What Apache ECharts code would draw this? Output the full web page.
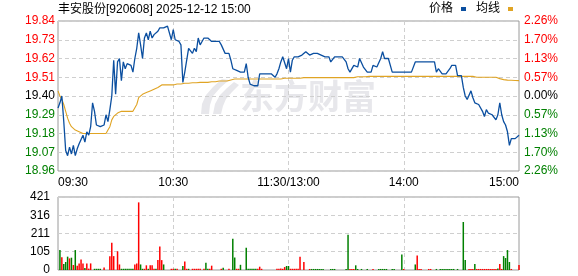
<!DOCTYPE html>
<html>
<head>
<meta charset="utf-8">
<script src="https://cdn.jsdelivr.net/npm/echarts@6/dist/echarts.min.js"></script>
<style>
html,body{margin:0;padding:0;background:#fff;}
#c{width:578px;height:276px;}
</style>
</head>
<body>
<div id="c"></div>
<script>
const titleText = '丰安股份[920608] 2025-12-12 15:00';
const prevClose = 19.40;
const priceTicks = [18.96,19.07,19.18,19.29,19.40,19.51,19.62,19.73,19.84];
const pctLabels = ['2.26%','1.70%','1.13%','0.57%','0.00%','0.57%','1.13%','1.70%','2.26%'];
const timeLabels = ['09:30','10:30','11:30/13:00','14:00','15:00'];
const volTicks = [0,105,211,316,421];

const prices = [
19.33,19.36,19.40,19.25,19.08,19.05,19.10,19.06,19.11,19.05,
19.09,19.12,19.13,19.17,19.13,19.19,19.17,19.22,19.36,19.31,
19.23,19.22,19.22,19.22,19.23,19.29,19.25,19.32,19.40,19.61,
19.41,19.60,19.62,19.49,19.60,19.56,19.59,19.58,19.58,19.54,
19.62,19.68,19.77,19.70,19.62,19.74,19.77,19.73,19.78,19.74,
19.76,19.77,19.78,19.80,19.81,19.80,19.80,19.81,19.81,19.73,
19.79,19.73,19.72,19.72,19.70,19.48,19.54,19.61,19.68,19.68,
19.65,19.68,19.66,19.74,19.70,19.72,19.74,19.74,19.74,19.73,
19.72,19.72,19.72,19.72,19.72,19.70,19.71,19.65,19.65,19.65,
19.61,19.56,19.55,19.55,19.54,19.54,19.54,19.54,19.59,19.51,
19.47,19.46,19.46,19.46,19.46,19.53,19.53,19.53,19.53,19.53,
19.53,19.53,19.53,19.51,19.53,19.56,19.60,19.63,19.64,19.56,
19.62,19.54,19.61,19.63,19.63,19.63,19.63,19.64,19.65,19.66,
19.66,19.64,19.65,19.65,19.66,19.65,19.64,19.64,19.63,19.63,
19.63,19.63,19.60,19.59,19.63,19.63,19.63,19.63,19.63,19.63,
19.60,19.56,19.54,19.55,19.58,19.59,19.57,19.62,19.62,19.57,
19.56,19.54,19.54,19.54,19.58,19.58,19.57,19.57,19.62,19.66,
19.62,19.62,19.62,19.62,19.54,19.54,19.54,19.54,19.54,19.54,
19.54,19.54,19.54,19.54,19.54,19.53,19.60,19.60,19.60,19.60,
19.60,19.60,19.60,19.60,19.60,19.60,19.60,19.54,19.56,19.55,
19.53,19.53,19.53,19.53,19.56,19.58,19.58,19.58,19.52,19.52,
19.52,19.45,19.40,19.38,19.39,19.43,19.39,19.36,19.35,19.35,
19.34,19.31,19.28,19.32,19.30,19.29,19.29,19.29,19.26,19.29,
19.36,19.29,19.25,19.23,19.19,19.11,19.15,19.15,19.15,19.15,
19.17
];

const avgPrices = [
19.43,19.40,19.38,19.35,19.31,19.27,19.24,19.22,19.21,19.20,
19.19,19.19,19.18,19.18,19.18,19.18,19.18,19.18,19.18,19.18,
19.18,19.18,19.18,19.18,19.18,19.18,19.20,19.22,19.26,19.28,
19.29,19.30,19.30,19.31,19.31,19.31,19.31,19.31,19.31,19.31,
19.32,19.35,19.39,19.40,19.41,19.41,19.42,19.42,19.43,19.43,
19.44,19.44,19.45,19.46,19.465,19.465,19.465,19.465,19.465,19.465,
19.465,19.47,19.47,19.47,19.47,19.475,19.475,19.475,19.475,19.475,
19.478,19.478,19.478,19.478,19.48,19.48,19.48,19.48,19.48,19.484,
19.484,19.484,19.484,19.484,19.488,19.488,19.488,19.488,19.488,19.488,
19.494,19.497,19.50,19.50,19.50,19.50,19.50,19.50,19.50,19.50,
19.50,19.50,19.50,19.50,19.50,19.50,19.50,19.50,19.50,19.50,
19.50,19.50,19.50,19.50,19.50,19.50,19.50,19.504,19.504,19.504,
19.504,19.504,19.504,19.504,19.504,19.504,19.504,19.504,19.508,19.508,
19.508,19.508,19.508,19.508,19.508,19.508,19.508,19.508,19.508,19.508,
19.508,19.508,19.508,19.508,19.508,19.508,19.508,19.508,19.508,19.508,
19.508,19.508,19.508,19.508,19.508,19.513,19.513,19.513,19.513,19.513,
19.513,19.513,19.515,19.515,19.515,19.515,19.515,19.515,19.515,19.515,
19.515,19.515,19.515,19.515,19.515,19.515,19.515,19.515,19.515,19.515,
19.515,19.515,19.515,19.515,19.515,19.515,19.515,19.515,19.515,19.515,
19.515,19.515,19.515,19.515,19.515,19.515,19.515,19.515,19.515,19.515,
19.515,19.515,19.515,19.515,19.515,19.515,19.515,19.515,19.515,19.515,
19.515,19.515,19.515,19.515,19.515,19.515,19.515,19.51,19.51,19.51,
19.51,19.51,19.51,19.51,19.51,19.51,19.51,19.51,19.51,19.51,
19.502,19.498,19.496,19.494,19.493,19.493,19.492,19.492,19.491,19.491,
19.49
];

const volumes = [
0,115,73,34,46,77,67,71,29,115,
25,38,61,38,12,38,8,38,0,7,
7,7,7,0,15,0,0,80,157,80,
0,108,32,7,7,7,7,7,7,7,
32,38,390,32,7,7,27,7,27,27,
7,7,57,135,57,32,0,0,0,7,
7,7,7,0,0,23,49,7,7,0,
7,7,7,7,7,0,7,42,7,7,
25,0,0,0,0,7,13,0,0,7,
0,180,72,7,7,30,0,0,129,7,
7,7,7,7,7,19,7,0,0,0,
0,0,0,0,7,7,9,7,17,23,
23,7,7,7,7,7,76,0,46,0,
0,6,6,6,6,6,6,6,6,0,
0,0,6,6,6,0,0,0,0,0,
6,203,6,6,6,27,6,0,6,0,
0,6,0,0,6,0,0,6,6,6,
6,6,0,0,6,6,0,0,0,89,
6,0,0,0,0,0,32,83,6,6,
0,0,0,6,6,0,0,6,0,6,
6,6,6,6,6,6,6,0,6,0,
0,277,57,0,6,6,6,34,6,6,
6,6,6,6,6,6,6,6,6,8,
34,6,80,69,115,46,6,0,0,0,
29
];

// 1 = up (red), -1 = down (green)
const volDir = [
1,-1,1,-1,-1,-1,1,-1,1,-1,
1,1,1,1,-1,1,1,1,1,-1,
-1,-1,-1,1,1,1,1,1,1,1,
1,1,1,-1,-1,-1,-1,-1,-1,-1,
1,1,1,-1,-1,1,1,-1,1,1,
1,-1,1,1,1,-1,1,1,1,1,
1,-1,1,1,1,-1,1,1,-1,1,
1,1,1,1,1,1,1,-1,-1,1,
1,1,1,1,1,1,-1,1,1,1,
1,-1,-1,1,1,-1,1,1,-1,-1,
-1,-1,-1,-1,1,1,1,1,1,1,
1,1,1,1,1,1,1,1,1,-1,
-1,1,1,1,1,1,1,1,1,1,
1,1,-1,-1,-1,-1,-1,-1,-1,1,
1,1,-1,-1,-1,1,1,1,1,1,
-1,-1,1,1,1,-1,-1,1,-1,1,
1,-1,1,1,1,1,1,-1,-1,-1,
-1,-1,1,1,-1,-1,1,1,1,-1,
1,1,1,1,1,1,-1,1,1,1,
1,1,1,1,1,1,1,-1,1,-1,
-1,-1,-1,-1,-1,-1,-1,1,-1,1,
1,-1,-1,1,1,1,1,-1,1,1,
1,1,1,1,1,1,1,1,1,-1,
1,1,-1,-1,-1,-1,1,1,1,1,
1
];

// minute categories 09:30-11:30, 13:01-15:00
const categories = [];
function pad(n){return (n<10?'0':'')+n;}
for (let t = 9*60+30; t <= 11*60+30; t++) categories.push(pad(Math.floor(t/60))+':'+pad(t%60));
for (let t = 13*60+1; t <= 15*60; t++) categories.push(pad(Math.floor(t/60))+':'+pad(t%60));

const RED = '#ff0000', GREEN = '#008000', BLACK = '#000000';
const BLUE = '#0b4fa0', GOLD = '#e0a424';
const FONT = '"Liberation Sans", Arial, "Noto Sans CJK SC", sans-serif';
const half = +(priceTicks[8] - prevClose).toFixed(2); // 0.44
const step = +(priceTicks[1] - priceTicks[0]).toFixed(2);

function lblColor(v){
  const d = typeof v === 'string' ? parseFloat(v) : v;
  if (d > 0.0001) return RED;
  if (d < -0.0001) return GREEN;
  return BLACK;
}

const priceDelta = prices.map(p => +(p - prevClose).toFixed(4));
const avgDelta = avgPrices.map(p => +(p - prevClose).toFixed(4));
const volData = volumes.map((v, i) => ({value: v, itemStyle: {color: volDir[i] > 0 ? RED : GREEN}}));

const markIdx = [60, 120, 180];
const splitDash = {color: '#cfcfcf', type: [4, 3], width: 1};
const WM = '#e7e7eb';

const chart = echarts.init(document.getElementById('c'), null, {renderer: 'canvas'});
chart.setOption({
  animation: false,
  backgroundColor: '#fff',
  title: {
    text: titleText, left: 58, top: 4, padding: 0,
    textStyle: {fontSize: 12, fontWeight: 'normal', color: '#000', fontFamily: FONT}
  },
  legend: {
    right: 65, top: 3, padding: 0, align: 'right',
    itemWidth: 5, itemHeight: 4, itemGap: 10,
    icon: 'rect',
    textStyle: {fontSize: 12, color: '#000', fontFamily: FONT, padding: [0, 3, 0, 0]},
    data: ['价格', '均线']
  },
  graphic: [
    {type: 'polygon', z: 0, silent: true,
     shape: {points: [[201,114],[202,104],[206,95],[213,87],[222,79],[229,80],[220,88],[213,96],[210,105],[209,114]]},
     style: {fill: WM}},
    {type: 'polygon', z: 0, silent: true,
     shape: {points: [[213,114],[215,104],[220,95],[227,88],[234,82],[239,85],[232,92],[226,99],[223,106],[221,114]]},
     style: {fill: WM}},
    {type: 'text', left: 240, top: 79, z: 0, silent: true,
     style: {text: '东方财富', font: 'bold 34px "Noto Sans CJK SC"', fill: WM}}
  ],
  grid: [
    {left: 58, top: 21, width: 461, height: 150, show: true, borderColor: '#9a9a9a', borderWidth: 1},
    {left: 58, top: 197, width: 461, height: 73, show: true, borderColor: '#9a9a9a', borderWidth: 1}
  ],
  xAxis: [
    {type: 'category', gridIndex: 0, data: categories, boundaryGap: false,
     axisLine: {show: false}, axisTick: {show: false},
     axisLabel: {
       interval: (i) => i % 60 === 0, margin: 6,
       formatter: (v, i) => timeLabels[Math.round(i / 60)],
       alignMinLabel: 'left', alignMaxLabel: 'right',
       fontSize: 12, color: '#000', fontFamily: FONT
     },
     splitLine: {show: true, interval: (i) => markIdx.indexOf(i) >= 0, lineStyle: splitDash}
    },
    {type: 'category', gridIndex: 1, data: categories, boundaryGap: false,
     axisLine: {show: false}, axisTick: {show: false}, axisLabel: {show: false},
     splitLine: {show: true, interval: (i) => markIdx.indexOf(i) >= 0, lineStyle: splitDash}
    }
  ],
  yAxis: [
    {type: 'value', gridIndex: 0, min: -half, max: half, interval: step,
     axisLine: {show: false}, axisTick: {show: false},
     axisLabel: {
       margin: 3, fontSize: 12, fontFamily: FONT,
       formatter: (v) => priceTicks[Math.round((v + half) / step)].toFixed(2),
       color: (v) => lblColor(v)
     },
     splitLine: {show: true, lineStyle: splitDash}
    },
    {type: 'value', gridIndex: 0, position: 'right', min: -half, max: half, interval: step,
     axisLine: {show: false}, axisTick: {show: false},
     axisLabel: {
       margin: 5, fontSize: 12, fontFamily: FONT,
       formatter: (v) => pctLabels[Math.round((v + half) / step)],
       color: (v) => lblColor(v)
     },
     splitLine: {show: false}
    },
    {type: 'value', gridIndex: 1, min: 0, max: volTicks[4], interval: volTicks[4] / 4,
     axisLine: {show: false}, axisTick: {show: false},
     axisLabel: {
       margin: 8, fontSize: 12, fontFamily: FONT, color: '#000',
       formatter: (v) => String(volTicks[Math.round(v / (volTicks[4] / 4))])
     },
     splitLine: {show: true, lineStyle: splitDash}
    }
  ],
  series: [
    {name: '价格', type: 'line', xAxisIndex: 0, yAxisIndex: 0, data: priceDelta,
     showSymbol: false, symbol: 'none', color: BLUE, lineStyle: {color: BLUE, width: 1.3}, z: 4},
    {name: '均线', type: 'line', xAxisIndex: 0, yAxisIndex: 0, data: avgDelta,
     showSymbol: false, symbol: 'none', color: GOLD, lineStyle: {color: GOLD, width: 1.1}, z: 3},
    {name: '成交量', type: 'bar', xAxisIndex: 1, yAxisIndex: 2, data: volData,
     barWidth: 1.5, z: 3}
  ]
});
</script>
</body>
</html>
